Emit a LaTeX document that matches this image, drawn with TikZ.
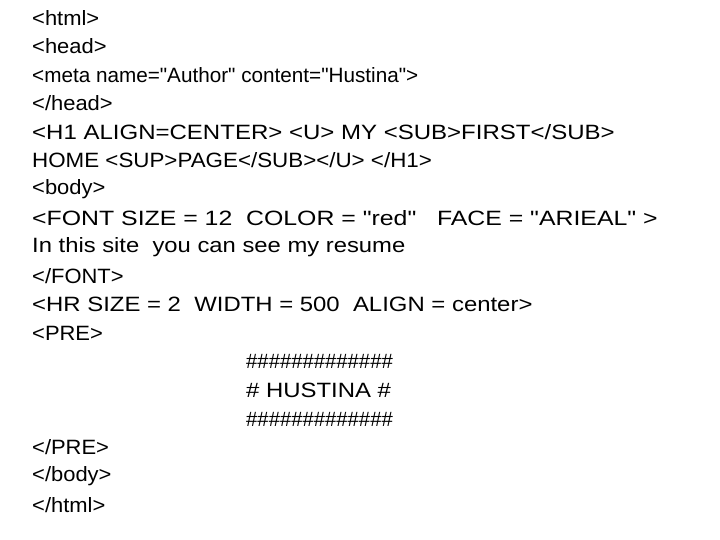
\documentclass[tikz,border=0pt]{standalone}
\usepackage{fontspec}
\usepackage{graphicx}
\setmainfont{Liberation Sans}[Ligatures=TeXOff]
\begin{document}
\begin{tikzpicture}[x=1pt,y=-1pt,txt/.style={anchor=west,inner sep=0pt,font=\fontsize{20.7}{24}\selectfont}]
\useasboundingbox (0,0) rectangle (720,540);
\node[txt] (l1) at (32,18) {\scalebox{1.06}[1]{<html>}};
\node[txt] (l2) at (32,46) {\scalebox{1.06}[1]{<head>}};
\node[txt] (l3) at (32,75) {<meta name="Author" content="Hustina">};
\node[txt] (l4) at (32,103) {\scalebox{1.06}[1]{</head>}};
\node[txt] (l5) at (32,132) {\scalebox{1.16}[1]{<H1 ALIGN=CENTER> <U> MY <SUB>FIRST</SUB>}};
\node[txt] (l6) at (32,160) {\scalebox{1.08}[1]{HOME <SUP>PAGE</SUB></U> </H1>}};
\node[txt] (l7) at (32,189) {\scalebox{1.06}[1]{<body>}};
\node[txt] (l8) at (32,218) {\scalebox{1.2}[1]{<FONT SIZE = 12\ \ COLOR = "red"\ \ \ FACE = "ARIEAL" >}};
\node[txt] (l9) at (32,247) {\scalebox{1.15}[1]{In this site\ \ you can see my resume}};
\node[txt] (l10) at (32,276) {\scalebox{1.06}[1]{</FONT>}};
\node[txt] (l11) at (32,304) {\scalebox{1.155}[1]{<HR SIZE = 2\ \ WIDTH = 500\ \ ALIGN = center>}};
\node[txt] (l12) at (32,333) {\scalebox{1.06}[1]{<PRE>}};
\node[txt] (h1) at (246,361) {\scalebox{0.98}[1]{\#\#\#\#\#\#\#\#\#\#\#\#\#}};
\node[txt] (h2) at (246,390) {\scalebox{1.155}[1]{\# HUSTINA \#}};
\node[txt] (h3) at (246,419) {\scalebox{0.98}[1]{\#\#\#\#\#\#\#\#\#\#\#\#\#}};
\node[txt] (l16) at (32,447) {\scalebox{1.06}[1]{</PRE>}};
\node[txt] (l17) at (32,476) {\scalebox{1.06}[1]{</body>}};
\node[txt] (l18) at (32,505) {\scalebox{1.06}[1]{</html>}};
\end{tikzpicture}
\end{document}
